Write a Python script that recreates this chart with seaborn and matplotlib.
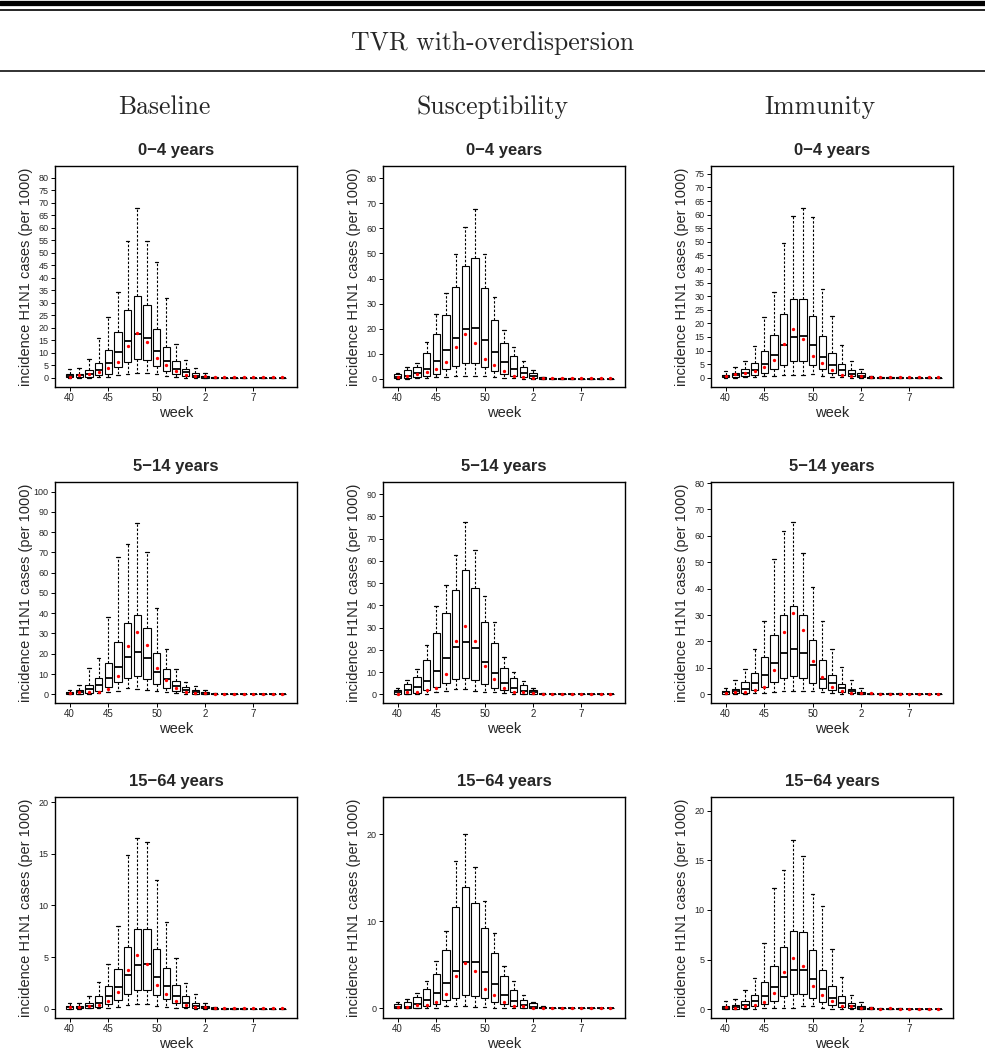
import numpy as np
import pandas as pd
import matplotlib
matplotlib.use("Agg")
import matplotlib.pyplot as plt
from matplotlib.lines import Line2D
import seaborn as sns

# ---------------- data ----------------
N_WEEKS = 23
WEEK_TICK_POS = [0, 4, 9, 14, 19]
WEEK_TICK_LABELS = ["40", "45", "50", "2", "7"]

MAIN_TITLE = "TVR with-overdispersion"
COLUMN_TITLES = ["Baseline", "Susceptibility", "Immunity"]
ROW_TITLES = ["0\u22124 years", "5\u221214 years", "15\u221264 years"]

# ---- 0-4 years ----
BASE_04_HI = [3.7, 4.1, 7.4, 15.9, 24.3, 34.5, 54.9, 68.0, 54.9, 46.2, 32.0, 13.4, 7.0, 4.1, 2.0, 0.5, 0.3, 0.3, 0.3, 0.2, 0.2, 0.2, 0.2]
BASE_04_Q3 = [1.7, 1.7, 3.2, 6.1, 11.0, 18.4, 27.2, 32.6, 29.2, 19.6, 12.3, 6.9, 3.6, 1.9, 0.9, 0.2, 0.1, 0.1, 0.1, 0.05, 0.05, 0.05, 0.05]
BASE_04_MED = [0.8, 1.0, 1.5, 3.2, 6.1, 10.3, 14.7, 17.6, 15.9, 10.9, 6.9, 3.7, 2.3, 0.8, 0.5, 0.05, 0.02, 0.02, 0.02, 0.0, 0.0, 0.0, 0.0]
BASE_04_Q1 = [0.3, 0.2, 0.4, 1.1, 1.7, 4.4, 6.5, 7.7, 7.0, 4.8, 2.8, 1.5, 0.8, 0.3, 0.1, 0.0, 0.0, 0.0, 0.0, 0.0, 0.0, 0.0, 0.0]
BASE_04_LO = [0.0, 0.0, 0.0, 0.3, 0.4, 1.2, 1.7, 2.0, 2.0, 1.7, 0.8, 0.4, 0.1, 0.0, 0.0, 0.0, 0.0, 0.0, 0.0, 0.0, 0.0, 0.0, 0.0]
BASE_04_MEAN = [0.5, 1.0, 1.7, 2.5, 4.0, 6.5, 12.6, 18.0, 14.5, 8.0, 5.3, 2.9, 1.2, 0.7, 0.6, 0.3, 0.2, 0.2, 0.2, 0.2, 0.15, 0.15, 0.15]

SUSC_04_HI = [2.4, 4.5, 6.3, 14.7, 25.7, 34.3, 49.8, 60.6, 67.6, 49.8, 32.5, 19.3, 12.7, 7.0, 3.4, 0.7, 0.3, 0.3, 0.3, 0.2, 0.2, 0.2, 0.2]
SUSC_04_Q3 = [1.8, 3.3, 4.8, 10.2, 18.0, 25.3, 36.8, 45.0, 48.2, 36.4, 23.6, 14.3, 9.0, 4.8, 2.2, 0.5, 0.1, 0.1, 0.1, 0.05, 0.05, 0.05, 0.05]
SUSC_04_MED = [0.8, 1.0, 2.2, 4.0, 6.9, 11.5, 16.2, 19.9, 20.3, 15.3, 10.7, 6.5, 3.7, 2.1, 0.9, 0.1, 0.02, 0.02, 0.02, 0.0, 0.0, 0.0, 0.0]
SUSC_04_Q1 = [0.3, 0.1, 0.7, 1.1, 1.7, 3.7, 4.9, 6.1, 6.1, 4.8, 3.2, 2.0, 1.2, 0.5, 0.3, 0.0, 0.0, 0.0, 0.0, 0.0, 0.0, 0.0, 0.0]
SUSC_04_LO = [0.0, 0.0, 0.1, 0.3, 0.7, 0.7, 1.2, 1.2, 1.2, 1.2, 0.7, 0.3, 0.1, 0.0, 0.0, 0.0, 0.0, 0.0, 0.0, 0.0, 0.0, 0.0, 0.0]
SUSC_04_MEAN = [0.5, 1.2, 2.0, 2.6, 4.0, 6.5, 12.7, 18.0, 14.3, 7.9, 5.3, 3.0, 1.2, 0.7, 0.4, 0.3, 0.2, 0.2, 0.2, 0.2, 0.15, 0.15, 0.15]

IMM_04_HI = [2.6, 3.8, 6.0, 11.7, 22.3, 31.5, 49.6, 59.6, 62.6, 59.1, 32.7, 22.6, 12.0, 6.0, 3.2, 0.6, 0.3, 0.3, 0.3, 0.2, 0.2, 0.2, 0.2]
IMM_04_Q3 = [1.0, 1.7, 3.4, 5.6, 9.9, 15.8, 23.6, 28.8, 29.1, 22.7, 15.4, 9.0, 5.1, 2.7, 1.6, 0.3, 0.1, 0.1, 0.1, 0.05, 0.05, 0.05, 0.05]
IMM_04_MED = [0.6, 1.0, 1.6, 2.7, 5.1, 8.2, 12.0, 15.0, 15.4, 12.0, 7.8, 4.6, 2.7, 1.3, 0.7, 0.05, 0.02, 0.02, 0.02, 0.0, 0.0, 0.0, 0.0]
IMM_04_Q1 = [0.2, 0.1, 0.6, 1.0, 1.6, 3.3, 4.8, 6.0, 6.0, 4.8, 3.4, 1.7, 1.0, 0.5, 0.1, 0.0, 0.0, 0.0, 0.0, 0.0, 0.0, 0.0, 0.0]
IMM_04_LO = [0.0, 0.0, 0.1, 0.2, 0.6, 0.6, 1.1, 1.1, 1.1, 1.5, 0.6, 0.3, 0.1, 0.0, 0.0, 0.0, 0.0, 0.0, 0.0, 0.0, 0.0, 0.0, 0.0]
IMM_04_MEAN = [0.7, 1.2, 1.6, 2.4, 4.0, 6.6, 12.6, 18.1, 14.4, 8.1, 5.4, 2.9, 1.0, 0.7, 0.5, 0.3, 0.2, 0.2, 0.2, 0.2, 0.15, 0.15, 0.15]

# ---- 5-14 years ----
BASE_514_HI = [2.1, 4.6, 12.8, 17.8, 38.3, 67.9, 74.2, 84.5, 70.1, 42.4, 22.4, 12.3, 6.2, 4.1, 2.1, 0.6, 0.3, 0.3, 0.3, 0.2, 0.2, 0.2, 0.2]
BASE_514_Q3 = [1.3, 2.1, 4.6, 8.2, 15.3, 25.7, 35.4, 39.3, 32.6, 20.4, 12.3, 6.7, 3.6, 2.3, 1.0, 0.2, 0.1, 0.1, 0.1, 0.05, 0.05, 0.05, 0.05]
BASE_514_MED = [0.8, 1.3, 2.8, 4.4, 8.2, 13.5, 18.6, 20.7, 17.8, 11.0, 7.7, 4.1, 2.1, 1.2, 0.5, 0.05, 0.02, 0.02, 0.02, 0.0, 0.0, 0.0, 0.0]
BASE_514_Q1 = [0.2, 0.3, 0.8, 1.8, 3.5, 5.9, 8.2, 9.2, 7.7, 5.1, 3.3, 1.6, 1.0, 0.3, 0.1, 0.0, 0.0, 0.0, 0.0, 0.0, 0.0, 0.0, 0.0]
BASE_514_LO = [0.0, 0.0, 0.2, 0.5, 1.0, 1.8, 3.0, 2.6, 2.3, 1.5, 1.0, 0.5, 0.2, 0.0, 0.0, 0.0, 0.0, 0.0, 0.0, 0.0, 0.0, 0.0, 0.0]
BASE_514_MEAN = [0.7, 1.0, 1.0, 1.3, 2.6, 9.2, 24.0, 30.8, 24.5, 12.8, 6.9, 3.0, 1.3, 0.8, 0.6, 0.3, 0.2, 0.2, 0.2, 0.2, 0.15, 0.15, 0.15]

SUSC_514_HI = [2.7, 6.4, 11.2, 22.0, 39.8, 49.0, 62.6, 77.3, 65.0, 44.4, 32.7, 16.8, 10.2, 6.2, 2.7, 0.6, 0.3, 0.3, 0.3, 0.2, 0.2, 0.2, 0.2]
SUSC_514_Q3 = [2.0, 4.5, 8.0, 15.5, 27.5, 36.4, 47.0, 56.0, 47.7, 32.6, 23.0, 11.9, 7.4, 4.2, 1.8, 0.3, 0.1, 0.1, 0.1, 0.05, 0.05, 0.05, 0.05]
SUSC_514_MED = [0.9, 2.0, 3.3, 6.2, 10.5, 16.4, 21.5, 23.7, 21.0, 14.4, 9.5, 5.0, 2.9, 1.7, 0.9, 0.05, 0.02, 0.02, 0.02, 0.0, 0.0, 0.0, 0.0]
SUSC_514_Q1 = [0.0, 0.3, 0.8, 1.8, 3.2, 5.3, 7.1, 7.5, 6.5, 4.5, 2.7, 2.0, 0.9, 0.3, 0.1, 0.0, 0.0, 0.0, 0.0, 0.0, 0.0, 0.0, 0.0]
SUSC_514_LO = [0.0, 0.0, 0.1, 0.3, 0.9, 1.4, 2.4, 2.3, 1.7, 0.9, 0.9, 0.6, 0.2, 0.0, 0.0, 0.0, 0.0, 0.0, 0.0, 0.0, 0.0, 0.0, 0.0]
SUSC_514_MEAN = [0.3, 0.9, 1.0, 1.8, 3.0, 9.3, 23.9, 30.8, 24.2, 12.8, 6.8, 2.9, 0.9, 0.9, 0.6, 0.3, 0.2, 0.2, 0.2, 0.2, 0.15, 0.15, 0.15]

IMM_514_HI = [2.3, 5.4, 9.6, 17.3, 27.9, 51.4, 61.7, 65.1, 53.4, 40.5, 27.9, 17.3, 10.5, 5.4, 2.4, 0.6, 0.3, 0.3, 0.3, 0.2, 0.2, 0.2, 0.2]
IMM_514_Q3 = [1.3, 2.1, 4.8, 8.2, 14.1, 22.3, 30.2, 33.4, 30.2, 20.7, 13.0, 7.3, 3.8, 2.0, 1.0, 0.2, 0.1, 0.1, 0.1, 0.05, 0.05, 0.05, 0.05]
IMM_514_MED = [0.8, 1.4, 2.1, 4.3, 7.4, 11.7, 15.8, 17.3, 15.8, 11.1, 5.9, 4.3, 2.3, 1.1, 0.5, 0.05, 0.02, 0.02, 0.02, 0.0, 0.0, 0.0, 0.0]
IMM_514_Q1 = [0.1, 0.4, 0.5, 1.8, 2.8, 4.7, 6.1, 6.9, 6.1, 4.3, 2.5, 1.6, 0.8, 0.3, 0.1, 0.0, 0.0, 0.0, 0.0, 0.0, 0.0, 0.0, 0.0]
IMM_514_LO = [0.0, 0.0, 0.1, 0.3, 0.3, 0.8, 1.3, 1.4, 1.4, 1.1, 0.8, 0.4, 0.1, 0.0, 0.0, 0.0, 0.0, 0.0, 0.0, 0.0, 0.0, 0.0, 0.0]
IMM_514_MEAN = [0.6, 0.8, 0.8, 1.6, 2.6, 9.1, 23.7, 30.7, 24.4, 12.7, 6.6, 2.8, 1.1, 0.6, 0.5, 0.3, 0.2, 0.2, 0.2, 0.2, 0.15, 0.15, 0.15]

# ---- 15-64 years ----
BASE_1564_HI = [0.58, 0.55, 1.23, 2.6, 4.3, 8.0, 14.9, 16.5, 16.1, 12.5, 8.35, 4.94, 2.5, 1.4, 0.6, 0.2, 0.08, 0.08, 0.06, 0.05, 0.05, 0.05, 0.05]
BASE_1564_Q3 = [0.23, 0.29, 0.55, 1.2, 2.2, 3.84, 6.0, 7.7, 7.7, 5.74, 3.94, 2.3, 1.2, 0.6, 0.29, 0.06, 0.02, 0.02, 0.02, 0.01, 0.01, 0.01, 0.01]
BASE_1564_MED = [0.13, 0.16, 0.29, 0.6, 1.23, 2.13, 3.26, 4.2, 4.3, 3.1, 2.16, 1.23, 0.6, 0.29, 0.13, 0.02, 0.01, 0.01, 0.01, 0.0, 0.0, 0.0, 0.0]
BASE_1564_Q1 = [0.0, 0.02, 0.1, 0.2, 0.48, 0.84, 1.39, 1.8, 1.8, 1.3, 0.9, 0.58, 0.2, 0.06, 0.02, 0.0, 0.0, 0.0, 0.0, 0.0, 0.0, 0.0, 0.0]
BASE_1564_LO = [0.0, 0.0, 0.02, 0.02, 0.1, 0.2, 0.35, 0.48, 0.42, 0.29, 0.2, 0.1, 0.03, 0.0, 0.0, 0.0, 0.0, 0.0, 0.0, 0.0, 0.0, 0.0, 0.0]
BASE_1564_MEAN = [0.13, 0.13, 0.26, 0.39, 0.77, 1.65, 3.7, 5.2, 4.3, 2.3, 1.42, 0.74, 0.32, 0.2, 0.13, 0.06, 0.04, 0.1, 0.04, 0.02, 0.02, 0.02, 0.02]

SUSC_1564_HI = [0.7, 1.06, 1.8, 3.1, 5.45, 8.9, 17.0, 20.0, 16.2, 12.3, 8.7, 4.86, 3.1, 1.5, 0.78, 0.25, 0.08, 0.08, 0.06, 0.05, 0.05, 0.05, 0.05]
SUSC_1564_Q3 = [0.47, 0.7, 1.33, 2.27, 4.0, 6.67, 11.7, 13.9, 12.1, 9.2, 6.35, 3.7, 2.16, 1.0, 0.6, 0.16, 0.03, 0.02, 0.02, 0.01, 0.01, 0.01, 0.01]
SUSC_1564_MED = [0.16, 0.16, 0.47, 0.98, 1.8, 2.9, 4.3, 5.33, 5.3, 4.16, 2.8, 1.6, 0.86, 0.35, 0.16, 0.03, 0.01, 0.01, 0.01, 0.0, 0.0, 0.0, 0.0]
SUSC_1564_Q1 = [0.0, 0.0, 0.08, 0.31, 0.55, 0.94, 1.2, 1.6, 1.45, 1.25, 0.7, 0.5, 0.24, 0.04, 0.01, 0.0, 0.0, 0.0, 0.0, 0.0, 0.0, 0.0, 0.0]
SUSC_1564_LO = [0.0, 0.0, 0.0, 0.03, 0.1, 0.24, 0.24, 0.24, 0.16, 0.16, 0.1, 0.08, 0.02, 0.0, 0.0, 0.0, 0.0, 0.0, 0.0, 0.0, 0.0, 0.0, 0.0]
SUSC_1564_MEAN = [0.16, 0.16, 0.4, 0.39, 0.7, 1.65, 3.7, 5.2, 4.3, 2.27, 1.5, 0.75, 0.27, 0.3, 0.08, 0.05, 0.04, 0.1, 0.04, 0.02, 0.02, 0.02, 0.02]

IMM_1564_HI = [0.8, 1.04, 1.88, 3.15, 6.67, 12.2, 14.0, 17.1, 15.4, 11.66, 10.4, 6.06, 3.2, 1.47, 0.7, 0.2, 0.08, 0.08, 0.06, 0.05, 0.05, 0.05, 0.05]
IMM_1564_Q3 = [0.33, 0.44, 0.84, 1.44, 2.7, 4.39, 6.23, 7.84, 7.74, 5.96, 3.95, 2.28, 1.27, 0.6, 0.3, 0.15, 0.03, 0.02, 0.02, 0.01, 0.01, 0.01, 0.01]
IMM_1564_MED = [0.13, 0.2, 0.44, 0.77, 1.37, 2.2, 3.2, 3.95, 3.95, 3.05, 1.98, 1.14, 0.6, 0.3, 0.13, 0.05, 0.01, 0.01, 0.01, 0.0, 0.0, 0.0, 0.0]
IMM_1564_Q1 = [0.0, 0.02, 0.13, 0.3, 0.5, 0.8, 1.27, 1.57, 1.54, 1.14, 0.7, 0.44, 0.2, 0.07, 0.02, 0.0, 0.0, 0.0, 0.0, 0.0, 0.0, 0.0, 0.0]
IMM_1564_LO = [0.0, 0.0, 0.02, 0.03, 0.1, 0.1, 0.1, 0.1, 0.27, 0.27, 0.1, 0.05, 0.02, 0.0, 0.0, 0.0, 0.0, 0.0, 0.0, 0.0, 0.0, 0.0, 0.0]
IMM_1564_MEAN = [0.2, 0.1, 0.3, 0.37, 0.74, 1.67, 3.7, 5.2, 4.36, 2.3, 1.47, 0.77, 0.3, 0.27, 0.13, 0.08, 0.04, 0.1, 0.04, 0.02, 0.02, 0.02, 0.02]

# panel grid (rows: age group, cols: scenario)
PANELS = [
    [(BASE_04_LO, BASE_04_Q1, BASE_04_MED, BASE_04_Q3, BASE_04_HI, BASE_04_MEAN),
     (SUSC_04_LO, SUSC_04_Q1, SUSC_04_MED, SUSC_04_Q3, SUSC_04_HI, SUSC_04_MEAN),
     (IMM_04_LO, IMM_04_Q1, IMM_04_MED, IMM_04_Q3, IMM_04_HI, IMM_04_MEAN)],
    [(BASE_514_LO, BASE_514_Q1, BASE_514_MED, BASE_514_Q3, BASE_514_HI, BASE_514_MEAN),
     (SUSC_514_LO, SUSC_514_Q1, SUSC_514_MED, SUSC_514_Q3, SUSC_514_HI, SUSC_514_MEAN),
     (IMM_514_LO, IMM_514_Q1, IMM_514_MED, IMM_514_Q3, IMM_514_HI, IMM_514_MEAN)],
    [(BASE_1564_LO, BASE_1564_Q1, BASE_1564_MED, BASE_1564_Q3, BASE_1564_HI, BASE_1564_MEAN),
     (SUSC_1564_LO, SUSC_1564_Q1, SUSC_1564_MED, SUSC_1564_Q3, SUSC_1564_HI, SUSC_1564_MEAN),
     (IMM_1564_LO, IMM_1564_Q1, IMM_1564_MED, IMM_1564_Q3, IMM_1564_HI, IMM_1564_MEAN)],
]

Y_LIMS = [[(-3.7, 84.7), (-3.3, 84.9), (-3.4, 77.9)],
          [(-4.3, 104.7), (-3.9, 95.5), (-3.3, 80.4)],
          [(-0.9, 20.5), (-1.1, 24.3), (-0.9, 21.4)]]
Y_TICKS = [[list(range(0, 81, 5)), list(range(0, 81, 10)), list(range(0, 76, 5))],
           [list(range(0, 101, 10)), list(range(0, 91, 10)), list(range(0, 81, 10))],
           [[0, 5, 10, 15, 20], [0, 10, 20], [0, 5, 10, 15, 20]]]

# ---------------- style ----------------
sns.set_style("ticks")
plt.rcParams["font.family"] = ["Liberation Sans", "DejaVu Sans"]

W, H = 985, 1050
fig = plt.figure(figsize=(W / 100, H / 100), dpi=100)

COL_LEFT = [55, 383, 711]
ROW_TOP = [166, 482, 797]
AX_W, AX_H = 242, 221

def fx(px):
    return px / W

def fy(py):
    return 1 - py / H

# header lines and titles
fig.add_artist(Line2D([0, 1], [fy(2.5), fy(2.5)], transform=fig.transFigure, color="black", lw=3.8))
fig.add_artist(Line2D([0, 1], [fy(9.5), fy(9.5)], transform=fig.transFigure, color="black", lw=1.2))
fig.add_artist(Line2D([0, 1], [fy(70.5), fy(70.5)], transform=fig.transFigure, color="#222222", lw=1.3))
fig.text(0.5, fy(43), MAIN_TITLE, family="cmr10", fontsize=18.5, ha="center", va="center")
for c, t in enumerate(COLUMN_TITLES):
    cx = COL_LEFT[c] + AX_W / 2 - 12
    fig.text(fx(cx), fy(107), t, family="cmr10", fontsize=18.5, ha="center", va="center")

for r in range(3):
    for c in range(3):
        lo, q1, med, q3, hi, mean = PANELS[r][c]
        vals = np.column_stack([lo, q1, med, q3, hi]).ravel()
        pos = np.repeat(np.arange(N_WEEKS), 5)
        df = pd.DataFrame({"week": pos, "value": vals})
        mdf = pd.DataFrame({"week": np.arange(N_WEEKS), "mean": mean})

        ax = fig.add_axes([fx(COL_LEFT[c]), fy(ROW_TOP[r] + AX_H), fx(AX_W), AX_H / H])
        sns.boxplot(data=df, x="week", y="value", order=list(range(N_WEEKS)),
                    whis=(0, 100), width=0.75, fill=True, color="white",
                    linecolor="black", linewidth=0.8, showfliers=False,
                    boxprops={"facecolor": "white", "edgecolor": "black", "linewidth": 0.8},
                    whiskerprops={"linestyle": (0, (2.2, 1.6)), "linewidth": 0.8, "color": "black"},
                    capprops={"linewidth": 0.9, "color": "black"},
                    medianprops={"linewidth": 1.3, "color": "black"},
                    ax=ax)
        sns.stripplot(data=mdf, x="week", y="mean", order=list(range(N_WEEKS)),
                      jitter=False, color="red", size=2.4, linewidth=0, ax=ax, zorder=5)

        ax.set_xlim(-1.5, 23.5)
        ax.set_ylim(*Y_LIMS[r][c])
        ax.set_yticks(Y_TICKS[r][c])
        ax.set_yticklabels([str(v) for v in Y_TICKS[r][c]], fontsize=6.5)
        ax.set_xticks(WEEK_TICK_POS)
        ax.set_xticklabels(WEEK_TICK_LABELS, fontsize=7)
        ax.tick_params(axis="both", direction="out", length=3, width=0.7, color="black", pad=1.5)
        for sp in ax.spines.values():
            sp.set_visible(True)
            sp.set_linewidth(1.0)
            sp.set_color("black")
        ax.set_title(ROW_TITLES[r], fontsize=12, fontweight="bold", pad=8)
        ax.set_xlabel("week", fontsize=10.5)
        ax.set_ylabel("incidence H1N1 cases (per 1000)", fontsize=10.5)
        ax.xaxis.set_label_coords(0.5, -0.085)
        ax.yaxis.set_label_coords(-0.09, 0.5)
        ax.grid(False)

fig.savefig("out.png", dpi=100, facecolor="white")
